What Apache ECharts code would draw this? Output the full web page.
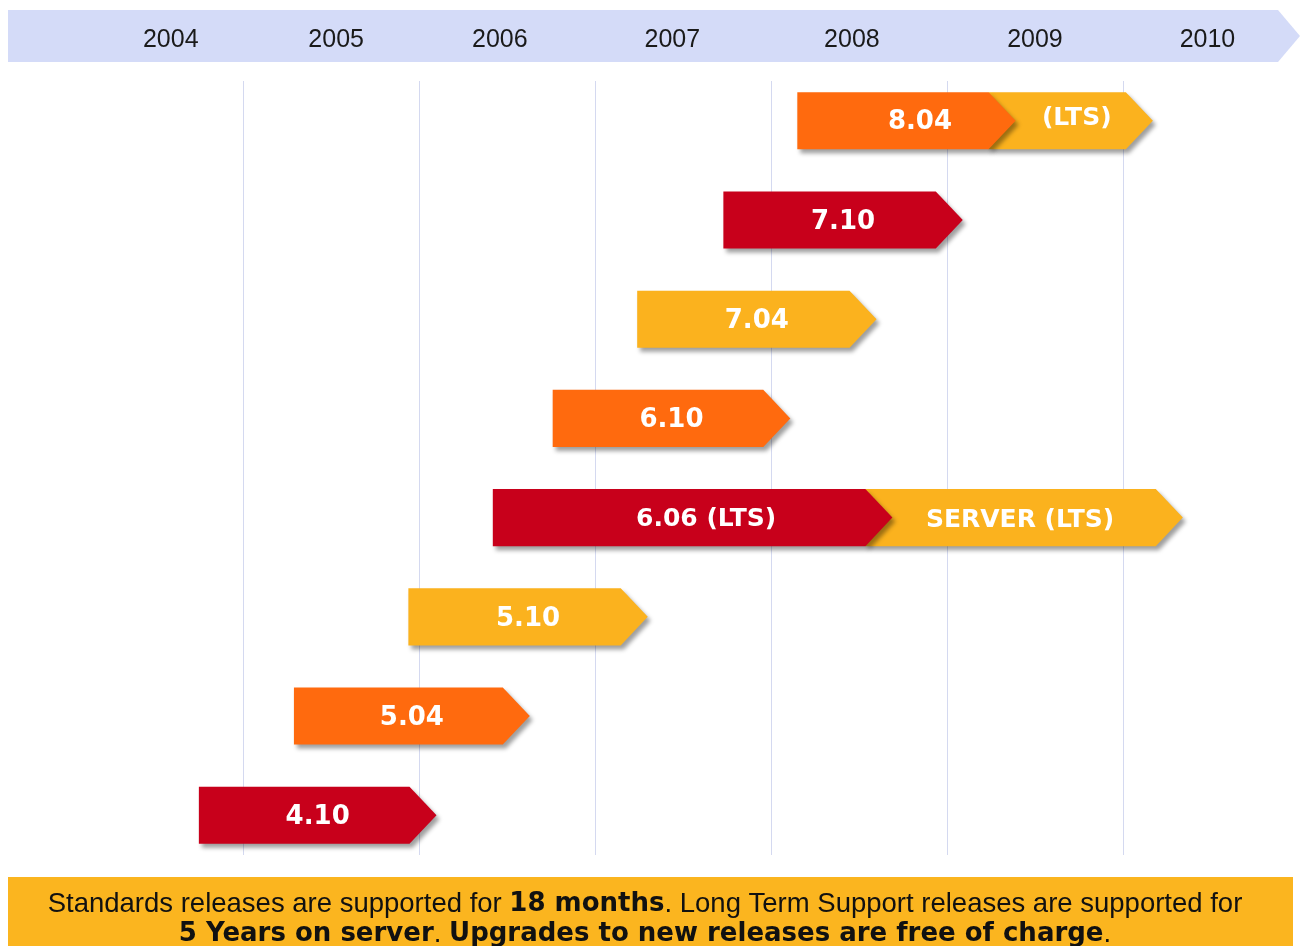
<!DOCTYPE html>
<html>
<head>
<meta charset="utf-8">
<script src="https://cdn.jsdelivr.net/npm/echarts@6/dist/echarts.min.js"></script>
<style>
html,body{margin:0;padding:0;background:#fff;}
#chart{width:1306px;height:946px;}
</style>
</head>
<body>
<div id="chart"></div>
<script>
// ---- data ----
const releases   = ['4.10', '5.04', '5.10', '6.06 (LTS)', '6.10', '7.04', '7.10', '8.04'];
const startVals  = [2004.75, 2005.29, 2005.94, 2006.42, 2006.76, 2007.24, 2007.73, 2008.15];
const endVals    = [2006.10, 2006.63, 2007.30, 2008.69, 2008.11, 2008.60, 2009.09, 2009.39];
const extLabels  = ['', '', '', 'SERVER (LTS)', '', '', '', '(LTS)'];
const extEndVals = [null, null, null, 2010.34, null, null, null, 2010.17];
const colorKeys  = ['red', 'orange', 'yellow', 'red', 'orange', 'yellow', 'red', 'orange'];
const years      = [2004, 2005, 2006, 2007, 2008, 2009, 2010];
const yearTickVals = [2004.59, 2005.53, 2006.46, 2007.44, 2008.46, 2009.50, 2010.48];
const gridYears  = [2005, 2006, 2007, 2008, 2009, 2010];

const palette = { red: '#C8001B', orange: '#FF6A0E', yellow: '#FBB21E' };

const chart = echarts.init(document.getElementById('chart'));

const barData = releases.map((r, i) => [i, startVals[i], endVals[i], extEndVals[i] == null ? NaN : extEndVals[i]]);

function renderItem(params, api) {
  const i = params.dataIndex;
  const row = api.value(0);
  const p0 = api.coord([api.value(1), row]);
  const p1 = api.coord([api.value(2), row]);
  const h = api.size([0, 0.575])[1];
  const d = 27;
  const yc = p0[1], top = yc - h / 2, bot = yc + h / 2;
  const shadow = { shadowBlur: 4, shadowOffsetX: 3, shadowOffsetY: 4, shadowColor: 'rgba(0,0,0,0.38)' };
  const children = [];
  const hasExt = extEndVals[i] != null;
  if (hasExt) {
    const p2 = api.coord([extEndVals[i], row]);
    children.push({
      type: 'polygon',
      shape: { points: [[p1[0] - d, top], [p2[0] - d, top], [p2[0], yc], [p2[0] - d, bot], [p1[0] - d, bot]] },
      style: Object.assign({ fill: palette.yellow }, shadow)
    });
    children.push({
      type: 'text',
      style: {
        text: extLabels[i], x: (p1[0] - d + p2[0]) / 2 + (i === 7 ? 6 : -4), y: yc + (i === 7 ? -2 : 3),
        align: 'center', verticalAlign: 'middle', fill: '#fff',
        font: 'bold 25px "DejaVu Sans"'
      }
    });
  }
  children.push({
    type: 'polygon',
    shape: { points: [[p0[0], top], [p1[0] - d, top], [p1[0], yc], [p1[0] - d, bot], [p0[0], bot]] },
    style: Object.assign({ fill: palette[colorKeys[i]] }, shadow)
  });
  children.push({
    type: 'text',
    style: {
      text: releases[i], x: (p0[0] + p1[0]) / 2 + (hasExt ? d / 2 : 0), y: yc + 2,
      align: 'center', verticalAlign: 'middle', fill: '#fff',
      font: 'bold ' + (i === 3 ? 25 : 26) + 'px "DejaVu Sans"'
    }
  });
  return { type: 'group', children };
}

const option = {
  backgroundColor: '#fff',
  animation: false,
  grid: { left: 0, right: 0, top: 81, bottom: 91 },
  xAxis: [
    {
      type: 'value', min: 2003.62, max: 2011.04,
      axisLine: { show: false }, axisTick: { show: false },
      axisLabel: { show: false }, splitLine: { show: false }
    },
    {
      type: 'value', position: 'top', min: 2003.62, max: 2011.04,
      axisLine: { show: false }, axisTick: { show: false }, splitLine: { show: false },
      axisLabel: {
        customValues: yearTickVals,
        formatter: v => String(years[yearTickVals.indexOf(v)] ?? Math.floor(v)),
        margin: 28, fontSize: 25, color: '#1a1a1a', fontFamily: '"Liberation Sans", Arial, sans-serif'
      }
    }
  ],
  yAxis: { type: 'value', min: -0.4, max: 7.4, show: false },
  series: [
    {
      type: 'line', data: [], z: 1, silent: true,
      markLine: {
        silent: true, symbol: 'none', label: { show: false },
        lineStyle: { color: '#D4D9F0', width: 1, type: 'solid' },
        data: gridYears.map(v => ({ xAxis: v }))
      }
    },
    {
      type: 'custom', z: 5, renderItem: renderItem, data: barData,
      encode: { x: [1, 2], y: 0 }
    }
  ],
  graphic: [
    {
      type: 'polygon', z: -10, silent: true,
      shape: { points: [[8, 10], [1278, 10], [1300, 36], [1278, 62], [8, 62]] },
      style: { fill: '#D4DBF8' }
    },
    {
      type: 'rect', z: -10, silent: true,
      shape: { x: 8, y: 877, width: 1285, height: 80 },
      style: { fill: '#FBB51F' }
    },
    {
      type: 'text', z: 10, silent: true,
      style: {
        x: 645, y: 904, align: 'center', verticalAlign: 'middle',
        text: '{n|Standards releases are supported for }{b|18 months}{n|. Long Term Support releases are supported for}',
        rich: {
          n: { fontFamily: '"Liberation Sans", Arial, sans-serif', fontSize: 27.5, fill: '#111', color: '#111' },
          b: { fontFamily: '"DejaVu Sans"', fontWeight: 'bold', fontSize: 26, fill: '#111', color: '#111' }
        }
      }
    },
    {
      type: 'text', z: 10, silent: true,
      style: {
        x: 645, y: 934, align: 'center', verticalAlign: 'middle',
        text: '{b|5 Years on server}{n|. }{b|Upgrades to new releases are free of charge}{n|.}',
        rich: {
          n: { fontFamily: '"Liberation Sans", Arial, sans-serif', fontSize: 27.5, fill: '#111', color: '#111' },
          b: { fontFamily: '"DejaVu Sans"', fontWeight: 'bold', fontSize: 26, fill: '#111', color: '#111' }
        }
      }
    }
  ]
};
chart.setOption(option);
</script>
</body>
</html>
